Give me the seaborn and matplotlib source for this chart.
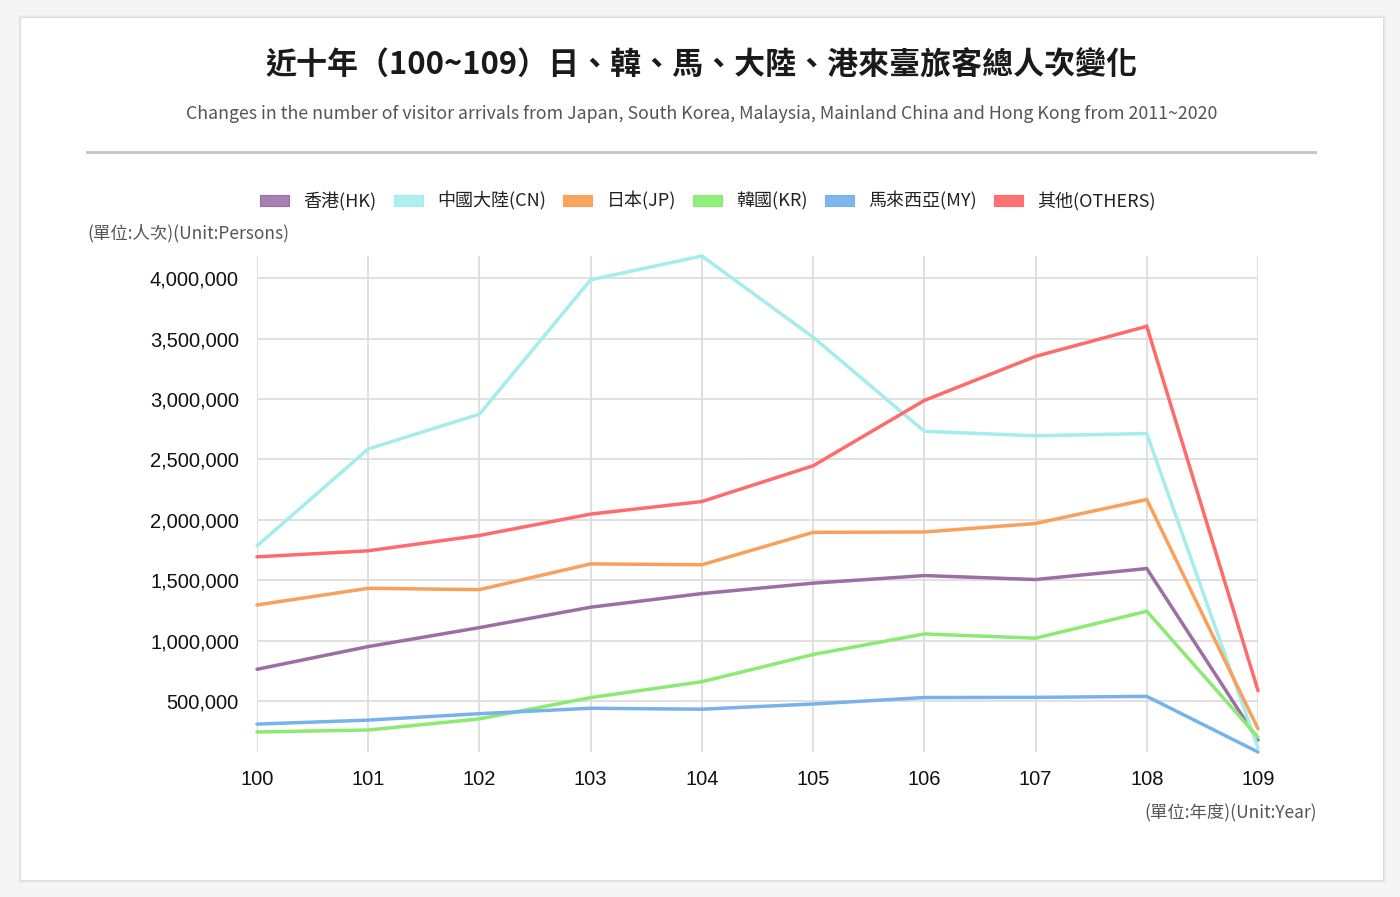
import pandas as pd
import matplotlib.pyplot as plt
import seaborn as sns
from matplotlib.patches import Patch, Rectangle
from matplotlib.ticker import FuncFormatter

# 資料 (民國年度)
years = [100, 101, 102, 103, 104, 105, 106, 107, 108, 109]
hk = [762000, 950000, 1107000, 1276000, 1389000, 1475000, 1538000, 1505000, 1596000, 176000]
cn = [1784185, 2586428, 2874702, 3987152, 4184102, 3511734, 2732549, 2695615, 2714065, 111050]
jp = [1294758, 1432315, 1421550, 1634790, 1627229, 1895702, 1898854, 1969151, 2167952, 269659]
kr = [242902, 259089, 351301, 527684, 658757, 884397, 1054708, 1019441, 1242598, 199000]
my = [307898, 341032, 394326, 439240, 431481, 474420, 528019, 529355, 537692, 77000]
others = [1693000, 1743000, 1870000, 2047000, 2151000, 2447000, 2988000, 3353000, 3602000, 585000]

series_names = ["香港(HK)", "中國大陸(CN)", "日本(JP)", "韓國(KR)", "馬來西亞(MY)", "其他(OTHERS)"]
series_values = [hk, cn, jp, kr, my, others]
line_colors = ["#9b6fa3", "#a5ecec", "#f9a05a", "#8cea73", "#78b2ec", "#ff6b6b"]
fill_colors = ["#a582b2", "#aef0f0", "#fba45f", "#90ee7a", "#7db5ee", "#ff7272"]

title = "近十年（100~109）日、韓、馬、大陸、港來臺旅客總人次變化"
subtitle = ("Changes in the number of visitor arrivals from Japan, South Korea, Malaysia, "
            "Mainland China and Hong Kong from 2011~2020")

# 長格式
rows = []
for name, vals in zip(series_names, series_values):
    for y, v in zip(years, vals):
        rows.append({"year": y, "visitors": v, "country": name})
df = pd.DataFrame(rows)

sns.set_style("white")
cjk = ["Noto Sans CJK TC", "DejaVu Sans"]
plt.rcParams["font.family"] = cjk

fig = plt.figure(figsize=(14, 8.97), dpi=100)
fig.patch.set_facecolor("#f5f5f5")

W, H = 1400, 897
# 卡片 + 陰影
for i, a in enumerate([0.025, 0.03, 0.04]):
    d = 3 - i
    fig.patches.append(Rectangle(((21 - d) / W, 1 - (880 + d) / H), (1362 + 2 * d) / W, (862 + 2 * d) / H,
                                 transform=fig.transFigure, facecolor="black", alpha=a,
                                 edgecolor="none", zorder=-3))
fig.patches.append(Rectangle((21 / W, 1 - 880 / H), 1362 / W, 862 / H, transform=fig.transFigure,
                             facecolor="white", edgecolor="none", zorder=-2))
# 分隔線
fig.patches.append(Rectangle((86 / W, 1 - 154 / H), 1231 / W, 3 / H, transform=fig.transFigure,
                             facecolor="#c8c8c8", edgecolor="none", zorder=-1))

fig.text(702 / W, 1 - 66 / H, title, ha="center", va="center", fontsize=22.3,
         fontweight="bold", color="#1a1a1a")
fig.text(702 / W, 1 - 114 / H, subtitle, ha="center", va="center", fontsize=12.8,
         fontweight="light", color="#555555")

ax = fig.add_axes([257 / W, 1 - 752 / H, 1001 / W, 496 / H])
ax.set_facecolor("white")
sns.lineplot(data=df, x="year", y="visitors", hue="country", hue_order=series_names,
             palette=line_colors, linewidth=2.5, ax=ax, legend=False)
for ln in ax.get_lines():
    ln.set_clip_on(False)
    ln.set_solid_joinstyle("miter")

ax.set_xlim(100, 109)
ax.set_ylim(df["visitors"].min(), df["visitors"].max())
ax.set_xticks(years)
ax.set_yticks([500000, 1000000, 1500000, 2000000, 2500000, 3000000, 3500000, 4000000])
ax.yaxis.set_major_formatter(FuncFormatter(lambda v, p: f"{int(v):,}"))
ax.grid(True, color="#dddddd", linewidth=1.3)
ax.set_axisbelow(True)
for s in ax.spines.values():
    s.set_visible(False)
ax.tick_params(axis="both", length=0, labelsize=14.5, labelcolor="#111111")
ax.tick_params(axis="y", pad=13)
ax.tick_params(axis="x", pad=13)
for t in ax.get_xticklabels() + ax.get_yticklabels():
    t.set_fontfamily(["Liberation Sans", "DejaVu Sans"])
ax.set_xlabel("")
ax.set_ylabel("")

fig.text(87 / W, 1 - 233 / H, "(單位:人次)(Unit:Persons)", ha="left", va="center",
         fontsize=12.5, fontweight="light", color="#555555")
fig.text(1317 / W, 1 - 813 / H, "(單位:年度)(Unit:Year)", ha="right", va="center",
         fontsize=12.5, fontweight="light", color="#555555")

handles = [Patch(facecolor=fc, edgecolor=lc, linewidth=0.8, label=n)
           for n, fc, lc in zip(series_names, fill_colors, line_colors)]
leg = fig.legend(handles=handles, loc="center", bbox_to_anchor=(708 / W, 1 - 201 / H), ncol=6,
                 frameon=False, fontsize=13, handlelength=1.6, handleheight=0.55,
                 handletextpad=0.8, columnspacing=0.95)
for t in leg.get_texts():
    t.set_color("#222222")

fig.savefig("out.png", dpi=100, facecolor=fig.get_facecolor())
